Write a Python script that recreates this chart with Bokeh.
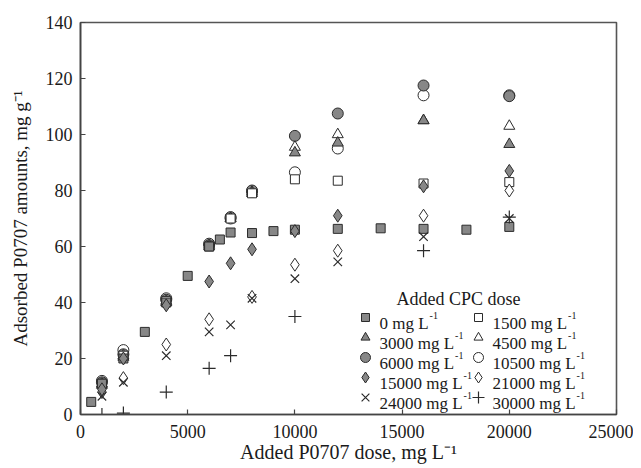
from bokeh.plotting import figure
from bokeh.models import Range1d, Label, FixedTicker
from bokeh.core.properties import value
from bokeh.embed import file_html
from bokeh.resources import INLINE

# ---------------- data ----------------
x_0 = [500, 1000, 2000, 3000, 4000, 5000, 6000, 6500, 7000, 8000, 9000, 10000, 12000, 14000, 16000, 18000, 20000]
y_0 = [4.5, 11, 20, 29.5, 40, 49.5, 60, 62.5, 65, 64.8, 65.5, 66, 66.3, 66.5, 66.3, 66, 67]

x_std = [1000, 2000, 4000, 6000, 7000, 8000, 10000, 12000, 16000, 20000]
y_1500 = [11, 21, 40.5, 60, 70, 79, 84, 83.5, 82.5, 83]
y_3000 = [10.5, 20.5, 40, 60, 70, 79, 93.5, 97, 105, 96.5]
y_4500 = [11, 21, 40.5, 60.5, 70, 79.5, 95.5, 100, 105, 103]
y_6000 = [11.5, 21.5, 41, 60.5, 70.5, 80, 99.5, 107.5, 117.5, 113.7]
y_10500 = [12, 23, 41.5, 61, 70, 79.5, 86.5, 95, 114, 114]
y_15000 = [9, 20, 39, 47.5, 54, 59, 65.5, 71, 81.5, 87]

x_21000 = [1000, 2000, 4000, 6000, 8000, 10000, 12000, 16000, 20000]
y_21000 = [8, 13, 25, 34, 42, 53.5, 58.5, 71, 80]

y_24000 = [6.5, 11.5, 21, 29.5, 32, 41.5, 48.5, 54.5, 63.5, 70]

x_30000 = [1000, 2000, 4000, 6000, 7000, 10000, 16000, 20000]
y_30000 = [0, 0.5, 8, 16.5, 21, 35, 58.5, 70.5]

x_ticks = [0, 5000, 10000, 15000, 20000, 25000]
y_ticks = [0, 20, 40, 60, 80, 100, 120, 140]

legend_doses = ["0", "1500", "3000", "4500", "6000", "10500", "15000", "21000", "24000", "30000"]
legend_title = "Added CPC dose"
x_title = "Added P0707 dose, mg L\u207b\u00b9"
y_title = "Adsorbed P0707 amounts, mg g\u207b\u00b9"
sup = "-1"

# ---------------- layout ----------------
W, H = 633, 468
BL, BR, BT, BB = 80, 17, 22, 54
FW, FH = W - BL - BR, H - BT - BB
X0, X1, Y0, Y1 = 0, 25000, 0, 140
OX, OY = BL, BT  # frame top-left in page pixels


def dx(px):
    return X0 + (px - OX) / FW * (X1 - X0)


def dy(py):
    return Y0 + (OY + FH - py) / FH * (Y1 - Y0)


TW = {'A': 722, 'd': 500, 'e': 444, 's': 389, 'o': 500, 'r': 333, 'b': 500, 'P': 556,
      ' ': 250, ',': 250, 'm': 778, 'g': 500, 'L': 611, 'a': 444, 'u': 500, 'n': 500,
      't': 278, 'C': 667, '-': 333}
for c in "0123456789":
    TW[c] = 500


def tw(s, size):
    return sum(TW.get(c, 500) for c in s) * size / 1000.0


FONT = "Liberation Serif"
GRAY = "#878787"
EDGE = "#2b2b2b"
TXT = "#1a1a1a"

p = figure(width=W, height=H, x_range=Range1d(X0, X1), y_range=Range1d(Y0, Y1),
           output_backend="svg", toolbar_location=None,
           min_border_left=BL, min_border_right=BR, min_border_top=BT, min_border_bottom=BB)
p.background_fill_color = "white"
p.border_fill_color = "white"
p.outline_line_color = "#555555"
p.outline_line_width = 1.6
p.xgrid.visible = False
p.ygrid.visible = False

for ax in (p.xaxis[0], p.yaxis[0]):
    ax.major_tick_in = 5
    ax.major_tick_out = 0
    ax.minor_tick_line_color = None
    ax.axis_line_color = "#444444"
    ax.axis_line_width = 1.6
    ax.major_tick_line_color = "#444444"
    ax.major_tick_line_width = 1.2
    ax.major_label_text_font = FONT
    ax.major_label_text_font_size = "18px"
    ax.major_label_text_color = TXT
    ax.axis_label_text_font = FONT
    ax.axis_label_text_font_style = "normal"
    ax.axis_label_text_color = TXT
p.xaxis[0].ticker = FixedTicker(ticks=x_ticks)
p.yaxis[0].ticker = FixedTicker(ticks=y_ticks)
p.xaxis[0].major_label_standoff = 10
p.yaxis[0].major_label_standoff = 8
p.xaxis[0].axis_label = x_title
p.xaxis[0].axis_label_text_font_size = "20px"
p.xaxis[0].axis_label_standoff = 0
p.yaxis[0].axis_label = y_title
p.yaxis[0].axis_label_text_font_size = "19px"
p.yaxis[0].axis_label_standoff = 12

# ---------------- data marks ----------------
def sc(x, y, marker, fill, size, lw=1.0):
    p.scatter(x, y, marker=marker, size=size, fill_color=fill, line_color=EDGE, line_width=lw)

sc(x_std, y_10500, "circle", "white", 11)
sc(x_std, y_6000, "circle", GRAY, 11)
sc(x_std, y_4500, "triangle", "white", 11)
sc(x_std, y_3000, "triangle", GRAY, 11)
sc(x_std, y_1500, "square", "white", 9)
sc(x_0, y_0, "square", GRAY, 9)
sc(x_21000, y_21000, "diamond", "white", 13)
sc(x_std, y_15000, "diamond", GRAY, 13)
sc(x_std, y_24000, "x", None, 12, 1.2)
sc(x_30000, y_30000, "cross", None, 13, 1.2)

# ---------------- legend (manual) ----------------
markers = [("square", GRAY, 8), ("square", "white", 8), ("triangle", GRAY, 9), ("triangle", "white", 9),
           ("circle", GRAY, 10), ("circle", "white", 10), ("diamond", GRAY, 11), ("diamond", "white", 11),
           ("x", None, 11), ("cross", None, 12)]
col_mark = [365, 478]
col_text = [379, 492]
rows = [317, 337, 357, 377, 397]
LFS = 17
lx, ly, ltxt, sx, sy = [], [], [], [], []
for i, d in enumerate(legend_doses):
    c, r = i % 2, i // 2
    m, f, s = markers[i]
    p.scatter([dx(col_mark[c])], [dy(rows[r])], marker=m, size=s, fill_color=f,
              line_color=EDGE, line_width=1.2 if f is None else 1.0)
    t = d + " mg L"
    lx.append(dx(col_text[c]))
    ly.append(dy(rows[r] + 6))
    ltxt.append(t)
    sx.append(dx(col_text[c] + tw(t, LFS) + 1))
    sy.append(dy(rows[r] - 2))

p.text(x=lx, y=ly, text=ltxt, text_font=value(FONT), text_font_size="17px",
       text_baseline="alphabetic", text_align="left", text_color=TXT)
p.text(x=sx, y=sy, text=[sup] * len(sx), text_font=value(FONT), text_font_size="10px",
       text_baseline="alphabetic", text_align="left", text_color=TXT)
p.add_layout(Label(x=dx(458), y=dy(298), text=legend_title, text_font=FONT, text_font_size="18px",
                   text_align="center", text_baseline="alphabetic", text_color=TXT))

open("out.html", "w").write(file_html(p, INLINE))
